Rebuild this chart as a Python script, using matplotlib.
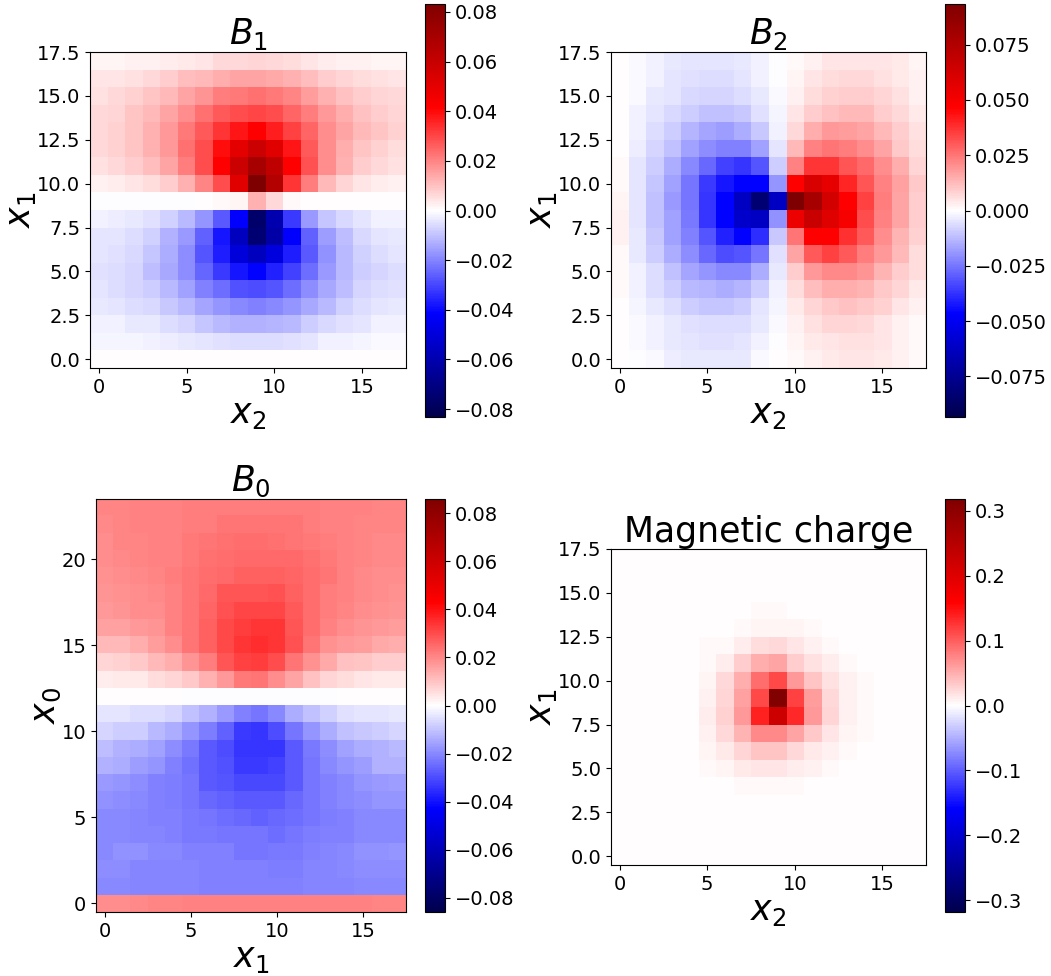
"""Four field heatmaps: B1, B2, B0 and the magnetic charge."""

import matplotlib
matplotlib.use('Agg')
import matplotlib.pyplot as plt
import numpy as np

# All grids are in units of 1e-3, rows listed from the top of the image down.
B1_GRID = [
    [1.7, 1.7, 2.1, 2.5, 2.9, 3.3, 4.2, 6.2, 6.2, 7, 6.2, 5.4, 4.2, 2.9, 2.5, 2.1, 1.7, 1.7],
    [4.2, 4.2, 5, 6.2, 8.3, 10.4, 11.6, 13.3, 14.5, 14.5, 14.1, 12.5, 10.8, 8.3, 7, 5.4, 4.6, 4.2],
    [5, 6.2, 7.5, 9.1, 11.2, 14.5, 17.4, 20.8, 22, 22.8, 22, 19.5, 15.8, 12.5, 10, 8.3, 6.6, 6.2],
    [6.2, 7, 9.1, 11.6, 14.5, 18.7, 22.8, 27, 29, 30.3, 29, 24.9, 20.8, 16.6, 13.3, 10, 8.3, 6.6],
    [6.2, 7.5, 9.5, 12.5, 16.6, 22, 27, 33, 38, 41.5, 37, 31, 24.9, 18.7, 14.5, 11.2, 9.1, 7.5],
    [6.2, 7.5, 9.5, 12.5, 16.6, 22.8, 29, 39.5, 50, 58, 51, 38, 27, 18.7, 13.3, 9.5, 7.5, 5.8],
    [5, 6.2, 8.3, 10.4, 14.5, 20.8, 29, 41.5, 58, 70, 62, 41.5, 28.2, 18.7, 12.5, 8.3, 6.2, 5],
    [2.1, 2.9, 4.2, 5.4, 8.3, 12.5, 20, 29, 51, 83, 66, 33, 21, 11.6, 7, 4.2, 2.9, 2.1],
    [-0.1, -0.1, -0.1, -0.1, -0.1, -0.1, 0.2, 0.8, 1.7, 12.5, 6.2, 0.8, 0.1, 0.1, 0.1, 0.1, 0.1, 0],
    [-2, -3, -3.5, -5, -7.5, -11.5, -17.5, -27, -42, -76, -60, -32, -16.5, -9.5, -6, -4, -2.5, -2],
    [-4.2, -4.2, -5.4, -7.5, -12.5, -16.6, -25.7, -38, -56, -74, -62, -42, -25.7, -15.8, -10.4, -6.2, -4.2, -3.3],
    [-4.2, -5, -6.2, -9.5, -13.3, -18.7, -27.8, -37, -50, -56, -49, -37, -27, -17.8, -11.6, -7.5, -5.4, -4.2],
    [-5, -5.4, -7, -10.4, -13.7, -18.7, -24.9, -32, -38, -41.5, -36, -31, -24, -16.6, -11.6, -8.3, -6.6, -5.4],
    [-4.2, -5.4, -7, -8.3, -11.6, -15.4, -20.8, -23.7, -28.2, -29, -27.8, -23.7, -18.7, -13.7, -10.4, -7, -5.8, -5],
    [-3.3, -4.2, -5.4, -6.2, -9.1, -11.6, -14.5, -17.4, -19.5, -20.8, -19.5, -17.4, -14.1, -11.2, -7.5, -5.4, -4.2, -3.7],
    [-2.1, -2.5, -3.3, -3.7, -5.4, -7, -9.5, -11.2, -12.5, -12.5, -12, -11.2, -8.3, -6.2, -4.6, -4.2, -2.5, -2.1],
    [-1.7, -1.7, -1.7, -2.1, -2.9, -3.7, -4.2, -5, -5.4, -5.8, -5.8, -5, -4.2, -2.5, -2.1, -1.7, -1.2, -1.2],
    [0.2, 0.2, 0.2, 0.2, 0.2, 0.2, 0.2, 0.2, 0.2, 0.2, 0.2, 0.2, 0.2, 0.2, 0.2, 0.2, 0.2, 0.2],
]

B2_GRID = [
    [0, -1, -2.3, -3.7, -4.6, -5, -5, -4.1, -2.3, -0.5, 1.4, 2.8, 4.6, 5.1, 5.1, 4.6, 3.7, 1.8],
    [0, -0.9, -2.8, -4.6, -5.5, -6, -6, -5.1, -2.8, -0.5, 1.8, 4.6, 6.4, 6.9, 6.9, 5.5, 4.1, 2.3],
    [0, -0.9, -3.7, -5.1, -6.9, -7.4, -7.4, -6.4, -3.7, -0.9, 2.3, 6.4, 8.7, 9.2, 9.2, 7.8, 5.5, 2.8],
    [0.5, -2.3, -5.1, -6.9, -9.2, -11, -11.5, -10.1, -5.5, -1.8, 4.6, 9.2, 11.5, 12.4, 12.4, 9.2, 6.9, 3.7],
    [0.5, -2.3, -6.4, -9.2, -13.8, -16.1, -17.5, -15.2, -10.1, -2.3, 6.9, 15.2, 18.4, 17.5, 16.6, 12.4, 9.2, 5.5],
    [0.5, -3.2, -7.8, -11.5, -17, -20.7, -23, -23, -17, -4.6, 12.4, 23, 25.3, 23.9, 20.7, 16.1, 10.1, 6],
    [1.4, -4.6, -9.2, -15.2, -21.6, -27.6, -34.5, -36.8, -31.3, -9.2, 23, 36.8, 36.8, 31.3, 27.6, 20.7, 14.7, 7.8],
    [1.4, -4.6, -10.6, -17, -25.3, -35.9, -42.3, -46, -46, -19.3, 46, 60, 55, 40, 30.8, 23, 17, 10.1],
    [1.8, -5.1, -11.5, -18.4, -25.3, -36.8, -46, -62, -83, -62, 93, 78, 62, 46, 34.5, 23.9, 16.1, 9.2],
    [2.3, -5.1, -11.5, -17, -24.4, -36.8, -46, -60, -62, -19.8, 53, 66, 58, 49, 32.2, 23, 16.1, 9.2],
    [2.3, -4.1, -10.1, -17, -23, -30.8, -40.5, -46, -38.2, -10.1, 25.3, 46, 46, 37.7, 29.9, 20.7, 13.8, 8.3],
    [1.4, -3.7, -9.2, -14.7, -20.7, -27.6, -32.2, -30.8, -25.3, -5.5, 16.1, 29.9, 34.5, 29.9, 23.9, 18.4, 12.9, 6.4],
    [0.9, -2.8, -6.4, -11.5, -16.6, -19.3, -21.6, -21.2, -15.2, -3.7, 9.2, 18.4, 21.6, 21.6, 19.3, 13.8, 9.2, 6],
    [0.9, -2.3, -6, -9.2, -12.9, -13.8, -15.2, -13.8, -9.2, -2.3, 6, 12, 14.7, 14.7, 13.8, 10.1, 7.8, 3.7],
    [0.5, -1.8, -3.7, -6, -9.2, -10.6, -10.6, -9.2, -5.1, -1.8, 3.7, 7.4, 9.7, 11, 10.1, 8.3, 5.1, 2.3],
    [0, -0.9, -2.8, -4.1, -5.5, -6.4, -6.4, -6, -3.7, -0.9, 2.3, 5.5, 7.4, 7.4, 6.9, 4.6, 2.8, 1.4],
    [0, -0.9, -2.3, -4.1, -4.6, -5.5, -5.5, -4.6, -2.3, -0.5, 1.8, 3.7, 4.6, 5.5, 5.5, 4.6, 2.8, 1.4],
    [0, -0.5, -1.4, -3.2, -3.7, -4.1, -4.1, -3.7, -1.4, 0, 0.9, 2.3, 3.7, 4.6, 4.6, 3.7, 2.3, 0.9],
]

B0_GRID = [
    [20.4, 20.4, 21.3, 21.3, 21.3, 21.7, 21.7, 21.7, 22.1, 22.1, 22.1, 21.7, 21.7, 21.3, 21.3, 21.3, 20.4, 20.4],
    [20, 20.4, 21.3, 21.3, 21.3, 22.1, 22.1, 23.4, 23.4, 23.4, 23.4, 23, 22.1, 21.3, 21.3, 20.4, 20.4, 20.4],
    [19.1, 20.4, 20.4, 21.3, 21.3, 22.5, 23, 23.8, 24.2, 24.2, 23.8, 23.4, 22.5, 21.7, 21.3, 20.4, 20, 20],
    [19.1, 19.6, 20.4, 21.3, 21.3, 22.5, 23.8, 24.2, 25, 25.5, 25.5, 25, 23.8, 22.5, 21.3, 20.4, 20, 19.6],
    [18.7, 19.1, 20, 20.4, 21.7, 23, 24.2, 25.5, 26.4, 26.8, 26.8, 25.9, 24.7, 23, 21.3, 20, 19.1, 19.1],
    [17.9, 18.7, 19.1, 20, 21.3, 23.4, 25.5, 28.5, 28.5, 28.5, 28.9, 26.4, 24.2, 22.1, 21.3, 20, 19.1, 18.7],
    [17, 17.9, 19.1, 19.1, 21.3, 23.4, 25.9, 28.9, 31, 31, 31, 27.6, 24.2, 22.1, 20.4, 19.1, 18.3, 17.9],
    [15.7, 15.7, 17, 17.9, 21.3, 23.4, 26.4, 30.6, 32.7, 34, 34, 28.5, 24.7, 21.3, 19.1, 17.9, 17, 16.2],
    [11.9, 11.9, 13.6, 16.2, 19.1, 23.4, 26.8, 30.6, 34, 35.3, 34, 28.9, 23.4, 18.3, 17, 16.2, 14.5, 13.6],
    [7.2, 7.7, 9.4, 11.5, 13.6, 17.9, 22.1, 28.5, 31.9, 32.7, 29.8, 23.4, 18.3, 14.5, 10.6, 9.8, 8.5, 8.5],
    [3, 3.4, 3.8, 5.5, 7.2, 9.4, 12.8, 17, 22.5, 23.4, 19.1, 14.9, 10.6, 6.8, 5.5, 4.3, 3.8, 3.4],
    [0, 0, 0, 0, 0, -0.4, -0.4, -0.4, -0.6, -0.6, -0.6, -0.6, -0.4, -0.4, 0, 0, 0, 0],
    [-4.3, -4.3, -5.5, -5.5, -7.2, -10.6, -12.8, -17, -21.3, -23.4, -20, -14, -10.6, -7.7, -5.1, -4.3, -4.3, -3.8],
    [-7.2, -8.5, -8.5, -11.5, -14, -17.9, -22.1, -26.4, -33.2, -34, -29.8, -23.4, -17.9, -14, -10.6, -9.4, -8.5, -7.2],
    [-11, -12.8, -13.6, -15.7, -19.1, -22.5, -27.6, -29.8, -34, -34, -34, -27.6, -22.5, -19.1, -15.7, -13.6, -12.8, -11.5],
    [-12.8, -14, -16.2, -17.9, -21.3, -23.8, -27.6, -28.9, -33.2, -33.2, -31.9, -28, -23.4, -20, -17.9, -16.2, -12.8, -12.8],
    [-17, -17.9, -19.1, -21.3, -22.1, -23.4, -27.6, -28.5, -30.6, -30.6, -30.6, -27.6, -23.4, -21.3, -20, -17.9, -17, -16.2],
    [-18.3, -19.1, -20, -21.3, -22.1, -23.4, -25.5, -26.4, -27.6, -27.6, -27.6, -25.5, -23.4, -21.3, -20, -19.1, -17.9, -17.9],
    [-20, -20, -20.4, -21.3, -21.3, -22.5, -23.4, -24.2, -25.5, -26.4, -25.5, -24.2, -23.4, -22.1, -21.3, -20, -19.6, -19.6],
    [-20, -20, -20.4, -20.8, -21.3, -22.5, -22.5, -23.4, -23.4, -23.4, -24.2, -23.4, -22.1, -21.3, -21.3, -20, -19.6, -19.6],
    [-20, -18.3, -18.3, -20, -20, -21.3, -21.3, -21.3, -23.4, -23.4, -22.5, -22.5, -21.3, -20.4, -20, -18.3, -18.3, -17.9],
    [-19.1, -19.1, -20.4, -20.4, -20.4, -20.4, -21.3, -21.3, -21.3, -21.3, -22.1, -22.1, -20.4, -20.4, -20, -19.1, -19.1, -19.1],
    [-19.6, -19.6, -20.4, -20.4, -20.4, -20.4, -21.3, -21.3, -21.3, -21.3, -21.3, -21.3, -20.4, -20.4, -20.4, -20, -20, -20],
    [19.1, 19.1, 20, 20.4, 20.4, 21.3, 21.3, 21.3, 21.3, 21.3, 21.3, 21.3, 21.3, 21.3, 21.3, 21.3, 20.4, 20.4],
]

CHARGE_GRID = [
    [0.8, 0.8, 0.8, 0.8, 0.8, 0.8, 0.8, 0.8, 0.8, 0.8, 0.8, 0.8, 0.8, 0.8, 0.8, 0.8, 0.8, 0.8],
    [0.8, 0.8, 0.8, 0.8, 0.8, 0.8, 0.8, 0.8, 0.8, 0.8, 0.8, 0.8, 0.8, 0.8, 0.8, 0.8, 0.8, 0.8],
    [0.8, 0.8, 0.8, 0.8, 0.8, 0.8, 0.8, 0.8, 0.8, 0.8, 0.8, 0.8, 0.8, 0.8, 0.8, 0.8, 0.8, 0.8],
    [0.8, 0.8, 0.8, 0.8, 0.8, 0.8, 0.8, 0.8, 3.1, 3.1, 0.8, 0.8, 0.8, 0.8, 0.8, 0.8, 0.8, 0.8],
    [0.8, 0.8, 0.8, 0.8, 0.8, 0.8, 2.4, 4.7, 6.3, 6.3, 6.3, 3.1, 0.8, 0.8, 0.8, 0.8, 0.8, 0.8],
    [0.8, 0.8, 0.8, 0.8, 0.8, 3.1, 4.7, 11, 20.4, 23.6, 15.7, 9.4, 4.7, 0.8, 0.8, 0.8, 0.8, 0.8],
    [0.8, 0.8, 0.8, 0.8, 0.8, 4.7, 11, 31, 50, 55, 31, 18.8, 11, 3.1, 0.8, 0.8, 0.8, 0.8],
    [0.8, 0.8, 0.8, 0.8, 2.4, 6.3, 23.6, 50, 91, 113, 63, 36, 18.8, 7.9, 3.1, 0.8, 0.8, 0.8],
    [0.8, 0.8, 0.8, 0.8, 2.4, 7.9, 26.7, 58, 113, 315, 118, 60, 23.6, 9.4, 3.1, 0.8, 0.8, 0.8],
    [0.8, 0.8, 0.8, 0.8, 2.4, 11, 28, 63, 137, 220, 133, 63, 26.7, 9.4, 3.1, 0.8, 0.8, 0.8],
    [0.8, 0.8, 0.8, 0.8, 2.4, 7.9, 23.6, 47, 74, 74, 55, 34.5, 15.7, 6.3, 3.1, 0.8, 0.8, 0.8],
    [0.8, 0.8, 0.8, 0.8, 2.4, 6.3, 12.6, 25, 36, 36, 23.6, 12.6, 7.9, 4.7, 0.8, 0.8, 0.8, 0.8],
    [0.8, 0.8, 0.8, 0.8, 0.8, 3.1, 6.3, 12.6, 15.7, 15.7, 11, 7.9, 3.1, 2.4, 0.8, 0.8, 0.8, 0.8],
    [0.8, 0.8, 0.8, 0.8, 0.8, 0.8, 2.4, 3.1, 4.7, 4.7, 3.1, 2.4, 0.8, 0.8, 0.8, 0.8, 0.8, 0.8],
    [0.8, 0.8, 0.8, 0.8, 0.8, 0.8, 0.8, 0.8, 0.8, 0.8, 0.8, 0.8, 0.8, 0.8, 0.8, 0.8, 0.8, 0.8],
    [0.8, 0.8, 0.8, 0.8, 0.8, 0.8, 0.8, 0.8, 0.8, 0.8, 0.8, 0.8, 0.8, 0.8, 0.8, 0.8, 0.8, 0.8],
    [0.8, 0.8, 0.8, 0.8, 0.8, 0.8, 0.8, 0.8, 0.8, 0.8, 0.8, 0.8, 0.8, 0.8, 0.8, 0.8, 0.8, 0.8],
    [0.8, 0.8, 0.8, 0.8, 0.8, 0.8, 0.8, 0.8, 0.8, 0.8, 0.8, 0.8, 0.8, 0.8, 0.8, 0.8, 0.8, 0.8],
]

B1_LIMIT = 0.0832
B2_LIMIT = 0.0933
B0_LIMIT = 0.086
CHARGE_LIMIT = 0.3177

SPATIAL_TICKS = [0, 2.5, 5, 7.5, 10, 12.5, 15, 17.5]
SIDE_TICKS = [0, 5, 10, 15]
TIME_TICKS = [0, 5, 10, 15, 20]
FINE_BAR_TICKS = [-0.08, -0.06, -0.04, -0.02, 0, 0.02, 0.04, 0.06, 0.08]
B2_BAR_TICKS = [-0.075, -0.05, -0.025, 0, 0.025, 0.05, 0.075]
CHARGE_BAR_TICKS = [-0.3, -0.2, -0.1, 0, 0.1, 0.2, 0.3]

WIDTH, HEIGHT = 1051, 976

plt.rcParams.update({'xtick.labelsize': 14, 'ytick.labelsize': 14})


def pixel_axes(fig, left, top, right, bottom):
    # Axes placed by reference pixel edges, y counted from the top.
    return fig.add_axes([left / WIDTH, 1 - bottom / HEIGHT,
                         (right - left) / WIDTH, (bottom - top) / HEIGHT])


def draw_panel(fig, grid, limit, box, bar_box, title, xlabel, ylabel, yticks, bar_ticks):
    ax = pixel_axes(fig, *box)
    cax = pixel_axes(fig, *bar_box)
    # Rows are listed top first, so flip them for origin='lower'.
    values = np.array(grid)[::-1] * 1e-3
    image = ax.imshow(values, origin='lower', cmap='seismic', vmin=-limit, vmax=limit,
                      interpolation='nearest', aspect='auto')
    ax.set_xticks(SIDE_TICKS)
    ax.set_yticks(yticks)
    ax.set_title(title, fontsize=25, pad=2)
    ax.set_xlabel(xlabel, fontsize=25, labelpad=0)
    ax.set_ylabel(ylabel, fontsize=25, labelpad=-1)
    bar = fig.colorbar(image, cax=cax)
    bar.set_ticks(bar_ticks)
    return ax


fig = plt.figure(figsize=(WIDTH / 100, HEIGHT / 100), dpi=100)

draw_panel(fig, B1_GRID, B1_LIMIT, (90, 52, 406, 368), (425, 4, 445, 417),
           r'$B_1$', r'$x_2$', r'$x_1$', SPATIAL_TICKS, FINE_BAR_TICKS)
draw_panel(fig, B2_GRID, B2_LIMIT, (611, 52, 926, 368), (945, 4, 965, 417),
           r'$B_2$', r'$x_2$', r'$x_1$', SPATIAL_TICKS, B2_BAR_TICKS)
draw_panel(fig, B0_GRID, B0_LIMIT, (96, 499, 406, 912), (425, 499, 445, 912),
           r'$B_0$', r'$x_1$', r'$x_0$', TIME_TICKS, FINE_BAR_TICKS)
draw_panel(fig, CHARGE_GRID, CHARGE_LIMIT, (611, 549, 926, 865), (945, 499, 965, 912),
           'Magnetic charge', r'$x_2$', r'$x_1$', SPATIAL_TICKS, CHARGE_BAR_TICKS)

fig.savefig('out.png', dpi=100)
